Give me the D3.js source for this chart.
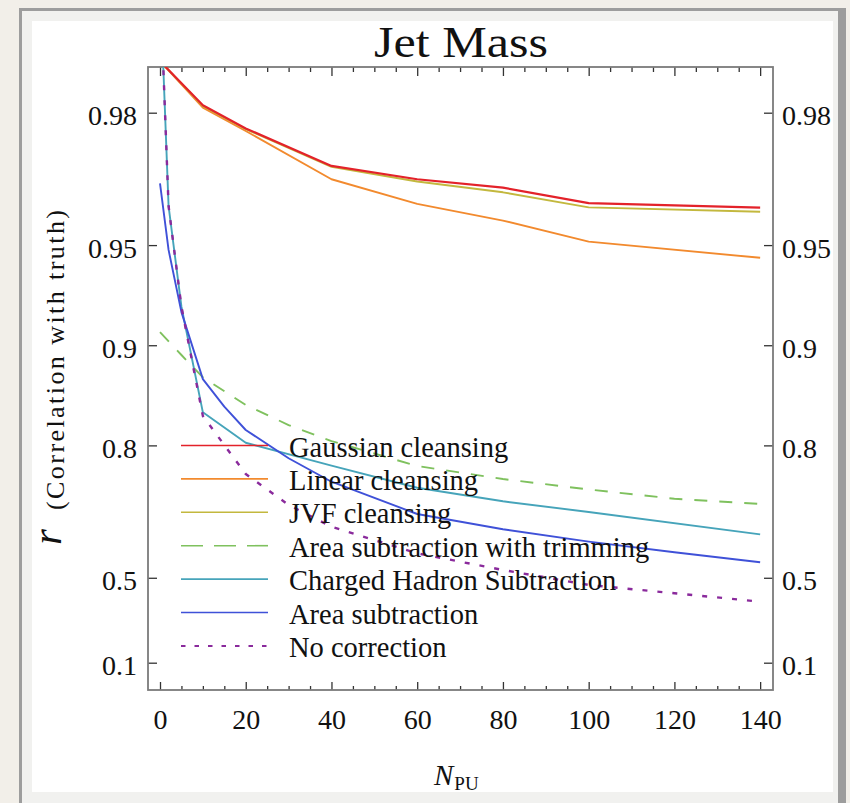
<!DOCTYPE html>
<html><head><meta charset="utf-8">
<script src="https://cdn.jsdelivr.net/npm/d3@7"></script>
<style>
body{margin:0;background:#f2efe9;}
svg{display:block;}
text{font-family:"Liberation Serif","Times New Roman",serif;fill:#111;}
</style>
</head><body>
<svg id="c" width="850" height="803"></svg>
<script>
// ---------- data ----------
const npu = [0, 10, 20, 40, 60, 80, 100, 140];
const gaussian = [0.986, 0.9810, 0.9777, 0.9711, 0.9683, 0.9664, 0.9626, 0.9614];
const linearCl = [0.986, 0.9807, 0.9773, 0.9683, 0.9624, 0.9578, 0.9512, 0.9454];
const jvf      = [0.986, 0.9809, 0.9776, 0.9709, 0.9678, 0.9653, 0.9615, 0.9603];

const npuChs = [0, 2, 5, 10, 20, 40, 60, 80, 100, 140];
const chs    = [0.992, 0.9618, 0.9234, 0.8409, 0.8036, 0.7698, 0.7319, 0.7055, 0.6829, 0.6298];

const npuTrim = [0, 5, 10, 20, 30, 40, 60, 80, 100, 120, 140];
const areaTrim = [0.9087, 0.893, 0.8751, 0.8488, 0.8263, 0.8059, 0.7693, 0.7476, 0.7286, 0.7107, 0.700];

const npuArea = [0, 2, 5, 10, 15, 20, 30, 40, 60, 80, 100, 120, 140];
const areaSub = [0.9674, 0.9483, 0.9205, 0.8736, 0.847, 0.8202, 0.7814, 0.7428, 0.6784, 0.6425, 0.6106, 0.5809, 0.5508];

const npuNoCorr = [0, 2, 5, 10, 15, 20, 30, 40, 60, 80, 100, 120, 140];
const noCorr = [0.992, 0.9618, 0.9234, 0.8368, 0.8005, 0.7562, 0.6979, 0.6487, 0.5779, 0.5262, 0.4745, 0.4435, 0.4102];

const xTicks = [0, 20, 40, 60, 80, 100, 120, 140];
const xMinorTicks = d3.range(5, 140, 5).filter(v => v % 20 !== 0);
const yTicks = [0.1, 0.5, 0.8, 0.9, 0.95, 0.98];
const yTickLabels = ["0.1", "0.5", "0.8", "0.9", "0.95", "0.98"];

const legendLabels = ["Gaussian cleansing", "Linear cleansing", "JVF cleansing",
  "Area subtraction with trimming", "Charged Hadron Subtraction", "Area subtraction", "No correction"];
const colors = ["#e3222a", "#f28a2e", "#c3b83e", "#7fc15e", "#46a4ba", "#3f51d8", "#8a2a9c"];
const dashes = [null, null, null, "13,12", null, null, "5,10"];
const legendDashes = [null, null, null, "22,11", null, null, "4.5,9"];

// ---------- layout ----------
const svg = d3.select("#c");
const L = 148, R = 773, T = 67, B = 690;

// background & frame
svg.append("rect").attr("x",0).attr("y",0).attr("width",850).attr("height",803).attr("fill","#f2efe9");
svg.append("rect").attr("x",19).attr("y",8).attr("width",827).attr("height",820).attr("fill","#9d9d9d");
svg.append("rect").attr("x",22).attr("y",11).attr("width",816).attr("height",820).attr("fill","#f1f1ef");
svg.append("rect").attr("x",32).attr("y",21).attr("width",801).attr("height",771).attr("fill","#ffffff");

const x = d3.scaleLinear().domain([-2.8, 143]).range([L, R]);
const yLog = d3.scaleLog().domain([0.9, 0.02]).range([662.7, 112.7]);
const y = r => yLog(1 - r);

// clip
svg.append("defs").append("clipPath").attr("id","clip")
  .append("rect").attr("x",L).attr("y",T).attr("width",R-L).attr("height",B-T);

// axes
const tickColor = "#333";
function styleAxis(g){
  g.select(".domain").remove();
  g.selectAll(".tick line").attr("stroke", tickColor).attr("stroke-width", 1.3);
  g.selectAll("text").style("font-size","28px").attr("fill","#111");
}
// bottom
svg.append("g").attr("transform",`translate(0,${B})`)
  .call(d3.axisBottom(x).tickValues(xTicks).tickSize(-8).tickPadding(19).tickFormat(d3.format("d")))
  .call(styleAxis);
svg.append("g").attr("transform",`translate(0,${B})`)
  .call(d3.axisBottom(x).tickValues(xMinorTicks).tickSize(-4).tickFormat(""))
  .call(styleAxis);
// top
svg.append("g").attr("transform",`translate(0,${T})`)
  .call(d3.axisTop(x).tickValues(xTicks).tickSize(-9).tickFormat(""))
  .call(styleAxis);
svg.append("g").attr("transform",`translate(0,${T})`)
  .call(d3.axisTop(x).tickValues(xMinorTicks).tickSize(-5).tickFormat(""))
  .call(styleAxis);
// left
const yl = svg.append("g").attr("transform",`translate(${L},0)`)
  .call(d3.axisLeft(yLog).tickValues(yTicks.map(v => 1 - v)).tickSize(-9).tickPadding(11)
    .tickFormat((d,i) => yTickLabels[i]))
  .call(styleAxis);
yl.selectAll("text").attr("dy", 12);
// right
const yr = svg.append("g").attr("transform",`translate(${R},0)`)
  .call(d3.axisRight(yLog).tickValues(yTicks.map(v => 1 - v)).tickSize(-9).tickPadding(9)
    .tickFormat((d,i) => yTickLabels[i]))
  .call(styleAxis);
yr.selectAll("text").attr("dy", 12);

// frame
svg.append("rect").attr("x",L).attr("y",T).attr("width",R-L).attr("height",B-T)
  .attr("fill","none").attr("stroke","#7b7b7b").attr("stroke-width",1.8);

// series
const series = [
  {xs: npuTrim, ys: areaTrim, i: 3},
  {xs: npuChs, ys: chs, i: 4},
  {xs: npuArea, ys: areaSub, i: 5},
  {xs: npuNoCorr, ys: noCorr, i: 6},
  {xs: npu, ys: linearCl, i: 1},
  {xs: npu, ys: jvf, i: 2},
  {xs: npu, ys: gaussian, i: 0}
];
const line = d3.line().x(d => x(d[0])).y(d => y(d[1]));
const plot = svg.append("g").attr("clip-path","url(#clip)");
series.forEach(s => {
  plot.append("path")
    .datum(s.xs.map((v,k) => [v, s.ys[k]]))
    .attr("d", line)
    .attr("fill","none")
    .attr("stroke", colors[s.i])
    .attr("stroke-width", s.i === 6 ? 2.4 : (s.i === 0 ? 2.2 : 1.9))
    .attr("stroke-dasharray", dashes[s.i])
    .attr("stroke-linejoin","round");
});

// legend
const leg = svg.append("g");
legendLabels.forEach((lab, i) => {
  const yy = 445.5 + i * 33.4;
  leg.append("line").attr("x1",181).attr("x2",268).attr("y1",yy).attr("y2",yy)
    .attr("stroke", colors[i]).attr("stroke-width", i === 6 ? 2 : 1.6)
    .attr("stroke-dasharray", legendDashes[i]);
  leg.append("text").attr("x",289).attr("y",yy + 11).style("font-size","28.5px").text(lab);
});

// title
svg.append("text").attr("x", 461).attr("y", 57).attr("text-anchor","middle")
  .style("font-size","45px").attr("textLength",174).attr("lengthAdjust","spacingAndGlyphs")
  .text("Jet Mass");

// y label
svg.append("text").attr("transform","translate(64,360) rotate(-90)").attr("text-anchor","middle")
  .style("font-size","26px").attr("textLength",300).attr("lengthAdjust","spacing")
  .text("(Correlation with truth)");
svg.append("text").attr("transform","translate(61,537) rotate(-90)").attr("text-anchor","middle")
  .style("font-size","40px").style("font-style","italic").text("r");

// x label
const xl = svg.append("text").attr("x", 434).attr("y", 785);
xl.append("tspan").style("font-size","29px").style("font-style","italic").text("N");
xl.append("tspan").attr("dy", 5).attr("dx", 1).style("font-size","19px").text("PU");
</script>
</body></html>
